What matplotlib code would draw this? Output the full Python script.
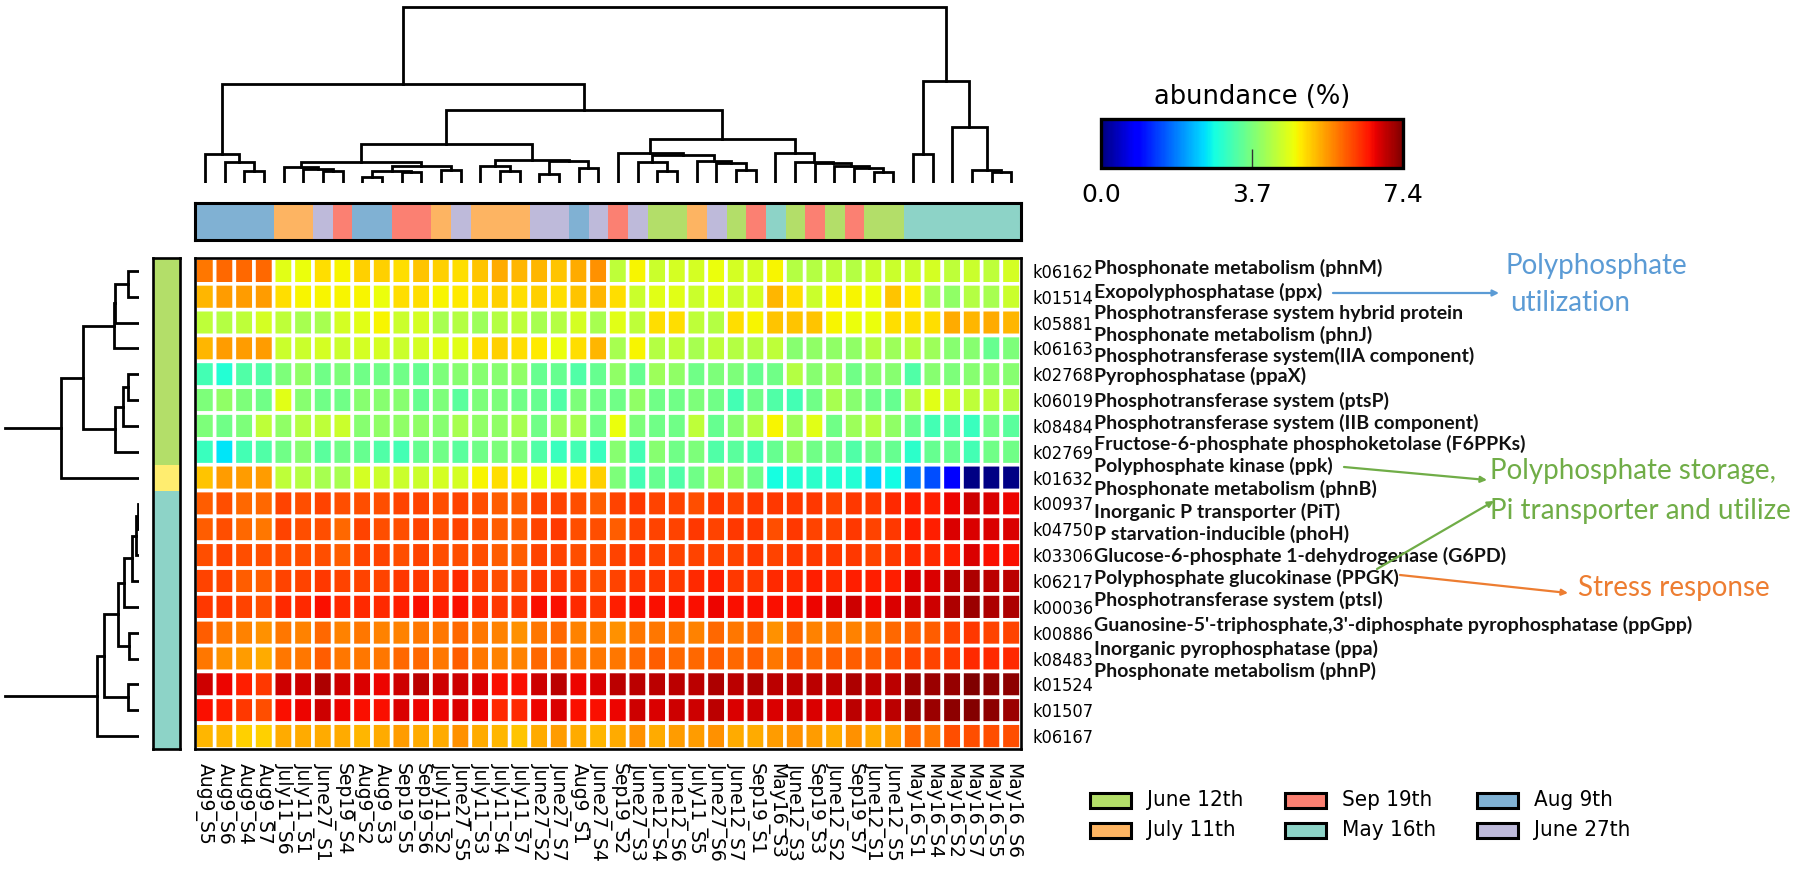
import matplotlib
matplotlib.use("Agg")
import matplotlib.pyplot as plt
import numpy as np
from matplotlib.cm import ScalarMappable
from matplotlib.colors import ListedColormap, Normalize
from matplotlib.patches import Rectangle

W, H = 1800, 874

samples = ["Aug9_S5", "Aug9_S6", "Aug9_S4", "Aug9_S7", "July11_S6", "July11_S1", "June27_S1",
           "Sep19_S4", "Aug9_S2", "Aug9_S3", "Sep19_S5", "Sep19_S6", "July11_S2", "June27_S5",
           "July11_S3", "July11_S4", "July11_S7", "June27_S2", "June27_S7", "Aug9_S1", "June27_S4",
           "Sep19_S2", "June27_S3", "June12_S4", "June12_S6", "July11_S5", "June27_S6", "June12_S7",
           "Sep19_S1", "May16_S3", "June12_S3", "Sep19_S3", "June12_S2", "Sep19_S7", "June12_S1",
           "June12_S5", "May16_S1", "May16_S4", "May16_S2", "May16_S7", "May16_S5", "May16_S6"]

kos = ["k06162", "k01514", "k05881", "k06163", "k02768", "k06019", "k08484", "k02769", "k01632",
       "k00937", "k04750", "k03306", "k06217", "k00036", "k00886", "k08483", "k01524", "k01507",
       "k06167"]

descriptions = ["Phosphonate metabolism (phnM)", "Exopolyphosphatase (ppx)",
                "Phosphotransferase system hybrid protein", "Phosphonate metabolism (phnJ)",
                "Phosphotransferase system(IIA component)", "Pyrophosphatase (ppaX)",
                "Phosphotransferase system (ptsP)", "Phosphotransferase system (IIB component)",
                "Fructose-6-phosphate phosphoketolase (F6PPKs)", "Polyphosphate kinase (ppk)",
                "Phosphonate metabolism (phnB)", "Inorganic P transporter (PiT)",
                "P starvation-inducible (phoH)", "Glucose-6-phosphate 1-dehydrogenase (G6PD)",
                "Polyphosphate glucokinase (PPGK)", "Phosphotransferase system (ptsI)",
                "Guanosine-5'-triphosphate,3'-diphosphate pyrophosphatase (ppGpp)",
                "Inorganic pyrophosphatase (ppa)", "Phosphonate metabolism (phnP)"]
desc_y = [268, 292, 313, 335, 356, 376, 401, 423, 444, 466, 489, 512, 534, 556, 578, 600, 625, 649, 671]

# abundance, one list per row
k06162 = [5.8, 5.9, 5.9, 5.9, 4.6, 4.7, 5.0, 4.8, 5.1, 5.1, 5.0, 5.2, 5.1, 5.0, 5.2, 5.4, 5.3, 5.3, 5.2, 5.4, 5.6,
          4.3, 4.8, 4.4, 4.5, 4.5, 4.7, 4.5, 4.5, 4.8, 4.2, 4.2, 4.3, 4.2, 4.4, 4.4, 4.4, 4.5, 4.3, 4.4, 4.3, 4.5]
k01514 = [5.3, 5.5, 5.5, 5.5, 5.0, 4.8, 4.8, 4.8, 4.8, 4.7, 5.0, 5.0, 4.8, 4.9, 5.0, 5.1, 5.0, 5.1, 5.0, 5.2, 5.3,
          5.0, 4.4, 4.6, 4.6, 4.4, 4.6, 4.4, 4.5, 5.3, 5.0, 4.4, 4.8, 4.8, 4.7, 5.2, 4.9, 4.1, 3.9, 4.2, 4.1, 4.4]
k05881 = [4.3, 4.2, 4.3, 4.5, 4.3, 4.1, 4.1, 4.5, 4.6, 4.8, 4.4, 4.5, 4.1, 4.2, 4.0, 4.2, 4.3, 4.1, 4.2, 4.5, 4.1,
          4.6, 4.3, 5.0, 5.0, 4.3, 4.2, 5.0, 4.8, 5.2, 5.2, 5.2, 4.8, 4.7, 4.7, 5.0, 5.0, 5.0, 5.4, 5.3, 5.4, 5.3]
k06163 = [5.3, 5.5, 5.5, 5.5, 4.4, 4.4, 4.5, 4.4, 4.5, 4.5, 4.4, 4.5, 4.6, 4.6, 5.0, 5.1, 5.0, 4.9, 4.7, 5.0, 5.3,
          4.1, 4.8, 4.2, 4.3, 4.1, 4.3, 4.2, 4.2, 4.3, 3.8, 3.9, 3.9, 3.9, 4.2, 4.0, 4.2, 4.0, 3.8, 3.8, 3.5, 3.7]
k02768 = [3.2, 2.9, 3.3, 3.3, 3.7, 3.9, 3.6, 3.7, 3.6, 3.6, 3.6, 3.5, 3.7, 3.8, 3.8, 3.8, 3.9, 3.5, 3.5, 3.3, 3.5,
          3.9, 3.5, 4.0, 3.9, 3.6, 3.7, 3.7, 3.5, 3.6, 4.2, 3.8, 4.0, 3.6, 3.8, 3.8, 3.3, 3.8, 3.7, 3.8, 3.8, 3.8]
k06019 = [3.7, 3.9, 3.7, 3.6, 4.6, 3.8, 3.6, 3.6, 3.8, 3.8, 3.8, 3.5, 3.7, 3.4, 3.7, 3.7, 3.6, 3.5, 3.3, 3.7, 3.6,
          3.6, 3.9, 3.6, 3.6, 3.7, 3.6, 3.2, 3.6, 3.3, 3.2, 3.6, 4.1, 3.8, 3.6, 3.5, 4.2, 4.6, 4.4, 4.3, 4.3, 4.2]
k08484 = [3.7, 3.6, 3.7, 4.3, 3.9, 4.2, 4.3, 4.4, 3.8, 3.9, 3.9, 3.9, 3.8, 4.1, 3.9, 3.9, 4.1, 3.6, 4.0, 4.1, 3.6,
          4.7, 3.7, 3.6, 3.6, 4.3, 3.5, 3.8, 4.2, 4.8, 4.0, 4.6, 3.6, 4.0, 4.2, 3.9, 3.5, 3.2, 3.3, 3.1, 3.6, 3.4]
k02769 = [3.1, 2.6, 3.2, 3.3, 3.6, 3.8, 3.4, 3.6, 3.5, 3.3, 3.2, 3.5, 3.6, 3.4, 3.6, 3.7, 3.7, 3.3, 3.1, 3.2, 3.1,
          3.8, 3.2, 3.8, 3.6, 3.7, 3.3, 3.4, 3.2, 3.5, 3.9, 3.6, 3.6, 3.3, 3.6, 3.5, 3.0, 3.5, 3.5, 3.2, 3.6, 3.6]
k01632 = [5.2, 5.5, 5.5, 5.5, 4.3, 4.2, 4.1, 4.1, 4.5, 4.4, 4.4, 4.4, 4.5, 4.5, 4.8, 5.0, 4.8, 4.7, 4.7, 4.9, 5.1,
          3.7, 3.2, 3.5, 3.3, 3.6, 4.0, 3.9, 3.6, 2.8, 2.9, 3.0, 2.9, 2.9, 2.4, 2.75, 1.8, 1.5, 0.85, 0.05, 0.05, 0.05]
k00937 = [6.0, 6.1, 5.9, 5.9, 6.2, 6.1, 6.2, 6.1, 6.1, 6.1, 6.2, 6.2, 6.1, 6.2, 6.1, 6.0, 6.0, 6.2, 6.2, 6.1, 6.0,
          6.2, 6.3, 6.2, 6.2, 6.1, 6.3, 6.2, 6.3, 6.3, 6.3, 6.3, 6.2, 6.3, 6.3, 6.4, 6.5, 6.5, 6.7, 6.9, 6.8, 6.7]
k04750 = [6.0, 6.1, 5.9, 5.8, 6.2, 6.1, 6.1, 5.9, 6.2, 6.1, 6.1, 6.2, 6.1, 6.2, 6.1, 6.0, 6.0, 6.2, 6.3, 6.1, 6.1,
          6.0, 6.2, 6.2, 6.2, 6.3, 6.2, 6.3, 6.3, 6.1, 6.3, 6.2, 6.2, 6.3, 6.2, 6.3, 6.5, 6.5, 6.8, 6.8, 6.8, 6.8]
k03306 = [6.1, 6.2, 6.1, 6.1, 6.1, 6.1, 6.1, 6.0, 6.2, 6.2, 6.1, 6.2, 6.1, 6.1, 6.1, 6.0, 6.0, 6.2, 6.2, 6.1, 6.1,
          6.2, 6.3, 6.2, 6.2, 6.2, 6.2, 6.2, 6.3, 6.2, 6.3, 6.3, 6.3, 6.3, 6.2, 6.3, 6.4, 6.4, 6.5, 6.8, 6.6, 6.6]
k06217 = [6.2, 6.2, 6.0, 6.0, 6.2, 6.2, 6.3, 6.2, 6.2, 6.2, 6.3, 6.3, 6.2, 6.4, 6.2, 6.1, 6.1, 6.3, 6.3, 6.2, 6.1,
          6.2, 6.3, 6.3, 6.3, 6.4, 6.5, 6.3, 6.3, 6.4, 6.4, 6.5, 6.4, 6.5, 6.5, 6.5, 6.8, 6.8, 7.0, 7.1, 7.0, 7.0]
k00036 = [6.3, 6.3, 6.2, 6.1, 6.4, 6.4, 6.6, 6.4, 6.4, 6.4, 6.5, 6.6, 6.5, 6.6, 6.4, 6.3, 6.3, 6.6, 6.6, 6.4, 6.3,
          6.5, 6.6, 6.6, 6.6, 6.6, 6.7, 6.6, 6.6, 6.6, 6.6, 6.7, 6.8, 6.9, 6.7, 6.8, 6.9, 6.9, 7.1, 7.2, 7.1, 7.1]
k00886 = [6.0, 5.8, 5.7, 5.6, 5.8, 5.7, 5.9, 5.7, 5.8, 5.7, 5.7, 5.8, 5.8, 5.9, 5.8, 5.7, 5.6, 5.8, 5.9, 5.7, 5.7,
          5.6, 5.8, 5.8, 5.8, 5.7, 5.9, 5.8, 5.9, 5.6, 5.9, 5.7, 5.8, 5.7, 5.8, 5.9, 6.0, 6.0, 6.2, 6.3, 6.2, 6.2]
k08483 = [5.8, 5.6, 5.5, 5.4, 5.8, 5.8, 6.0, 5.8, 5.8, 5.8, 5.9, 5.9, 5.8, 6.0, 5.8, 5.7, 5.7, 5.9, 5.9, 5.8, 5.8,
          5.8, 5.9, 6.0, 5.9, 5.9, 6.0, 5.9, 6.0, 5.8, 6.0, 5.9, 6.0, 6.0, 6.0, 6.1, 6.2, 6.2, 6.3, 6.4, 6.4, 6.4]
k01524 = [6.9, 6.7, 6.5, 6.3, 6.9, 6.9, 7.1, 6.9, 6.8, 6.7, 6.9, 7.0, 6.9, 6.9, 6.8, 6.6, 6.6, 6.9, 7.0, 6.7, 6.8,
          7.0, 7.0, 7.0, 7.0, 7.0, 7.1, 7.0, 7.1, 7.0, 7.0, 7.0, 7.0, 7.1, 7.0, 7.0, 7.2, 7.2, 7.25, 7.4, 7.3, 7.3]
k01507 = [6.6, 6.5, 6.3, 6.1, 6.6, 6.7, 6.9, 6.7, 6.6, 6.6, 6.8, 6.7, 6.7, 6.8, 6.7, 6.4, 6.4, 6.7, 6.8, 6.6, 6.6,
          6.7, 6.9, 6.8, 6.9, 6.9, 7.0, 6.8, 6.9, 6.8, 6.9, 6.8, 6.8, 7.0, 6.9, 7.0, 7.2, 7.2, 7.3, 7.35, 7.3, 7.2]
k06167 = [5.3, 5.3, 5.1, 5.1, 5.4, 5.4, 5.4, 5.4, 5.3, 5.4, 5.5, 5.4, 5.4, 5.6, 5.4, 5.3, 5.2, 5.4, 5.5, 5.4, 5.3,
          5.4, 5.6, 5.4, 5.5, 5.5, 5.6, 5.4, 5.4, 5.5, 5.6, 5.5, 5.4, 5.6, 5.4, 5.5, 5.9, 5.8, 6.1, 6.1, 6.1, 6.1]

abundance = np.array([k06162, k01514, k05881, k06163, k02768, k06019, k08484, k02769, k01632, k00937,
                      k04750, k03306, k06217, k00036, k00886, k08483, k01524, k01507, k06167])

date_names = ["June12", "July11", "Sep19", "May16", "Aug9", "June27"]
date_labels = ["June 12th", "July 11th", "Sep 19th", "May 16th", "Aug 9th", "June 27th"]
date_colors = ["#b3de69", "#fdb462", "#fb8072", "#8dd3c7", "#80b1d3", "#bebada"]
row_groups = [0] * 8 + [1] + [2] * 10
row_colors = ["#b3de69", "#ffed6f", "#8dd3c7"]

# trees are (height, left, right), ints are leaves
col_tree = (176,
            (99,
             (29, 0, (21, 1, (12, 2, 3))),
             (73,
              (39,
               (21,
                (16, 4, (14, 5, (12, 6, 7))),
                (17, (12, (6, 8, 9), (11, 10, 11)), (13, 12, 13))),
               (23,
                (17, 14, (12, 15, 16)),
                (22, (9, 17, 18), (15, 19, 20)))),
              (44,
               (30, 21, (28, (21, 22, (12, 23, 24)), (22, 25, (20, 26, (13, 27, 28))))),
               (30, 29, (21, 30, (20, 31, (17, 32, (15, 33, (11, 34, 35))))))))),
            (102,
             (29, 36, 37),
             (56, 38, (13, 39, (11, 40, 41)))))
row_tree_top = (78,
                (56,
                 (25, (23.5, (10.5, 0, 1), 2), 3),
                 (24, (16, (11, 4, 5), 6), 7)),
                8)
row_tree_bottom = (42,
                   (35,
                    (21,
                     (15, (7, (2.5, (0.7, 9, 10), 11), 12), 13),
                     (9.5, 14, 15)),
                    (10.5, 16, 17)),
                   18)


def px_axes(x0, y0, x1, y1):
    return fig.add_axes([x0 / W, 1 - y1 / H, (x1 - x0) / W, (y1 - y0) / H])


def draw_tree(ax, node, horizontal=True, lw=2.0):
    # returns leaf position and height of the node
    if not isinstance(node, tuple):
        return node + 0.5, 0
    h, left, right = node
    p1, h1 = draw_tree(ax, left, horizontal, lw)
    p2, h2 = draw_tree(ax, right, horizontal, lw)
    pos = [p1, p1, p2, p2]
    hts = [h1, h, h, h2]
    if horizontal:
        ax.plot(pos, hts, color="k", lw=lw, solid_joinstyle="miter")
    else:
        ax.plot(hts, pos, color="k", lw=lw, solid_joinstyle="miter")
    return (p1 + p2) / 2, h


fig = plt.figure(figsize=(W / 100, H / 100), dpi=100, facecolor="white")

# main heatmap
ax = px_axes(195, 258, 1021, 749)
mesh = ax.pcolor(abundance, cmap="jet", vmin=0, vmax=7.4, edgecolors="white", linewidth=2.6)
mesh.set_joinstyle("miter")
ax.set_xlim(0, abundance.shape[1])
ax.set_ylim(abundance.shape[0], 0)
ax.set_xticks(np.arange(len(samples)) + 0.5)
ax.set_xticklabels(samples, rotation=-90, fontsize=13.5, family="DejaVu Sans")
ax.set_yticks(np.arange(len(kos)) + 0.5)
ax.yaxis.tick_right()
ax.set_yticklabels(kos, fontsize=13, family="DejaVu Sans", stretch="condensed")
ax.tick_params(length=0, axis="both")
ax.tick_params(axis="x", pad=10)
ax.tick_params(axis="y", pad=8)
for s in ax.spines.values():
    s.set_linewidth(1.9)

# sample colours
cax_top = px_axes(195, 203, 1021, 240)
col_idx = [date_names.index(s.split("_")[0]) for s in samples]
cax_top.imshow([col_idx], aspect="auto", cmap=ListedColormap(date_colors), vmin=0, vmax=5,
               interpolation="nearest")
cax_top.set_xticks([])
cax_top.set_yticks([])
for s in cax_top.spines.values():
    s.set_linewidth(2.2)

# row colours
cax_left = px_axes(153, 258, 180, 749)
cax_left.imshow([[g] for g in row_groups], aspect="auto", cmap=ListedColormap(row_colors), vmin=0, vmax=2,
                interpolation="nearest")
cax_left.set_xticks([])
cax_left.set_yticks([])
for s in cax_left.spines.values():
    s.set_linewidth(1.9)

# dendrograms
tree_top = px_axes(195, 0, 1021, 183)
draw_tree(tree_top, col_tree)
tree_top.set_xlim(0, len(samples))
tree_top.set_ylim(0, 183)
tree_top.axis("off")

tree_left = px_axes(0, 258, 138.5, 749)
for tree in [row_tree_top, row_tree_bottom]:
    p, h = draw_tree(tree_left, tree, horizontal=False)
    tree_left.plot([h, 133.5], [p, p], color="k", lw=2.0)
tree_left.set_xlim(138.5, 0)
tree_left.set_ylim(len(kos), 0)
tree_left.axis("off")

# colour scale
cbar_ax = px_axes(1101, 119, 1403, 168)
cbar = fig.colorbar(ScalarMappable(Normalize(0, 7.4), "jet"), cax=cbar_ax, orientation="horizontal")
cbar.set_ticks([0, 3.7, 7.4], labels=["0.0", "3.7", "7.4"])
cbar.ax.tick_params(labelsize=18, direction="in", length=14, width=1, color="#333333", pad=11)
cbar.outline.set_linewidth(2.4)
cbar_ax.set_title("abundance (%)", fontsize=18.5, pad=11)

# text and arrows sit on a full size overlay, in pixels
over = fig.add_axes([0, 0, 1, 1], facecolor="none")
over.set_xlim(0, W)
over.set_ylim(H, 0)
over.axis("off")

for txt, y in zip(descriptions, desc_y):
    over.text(1094, y, txt, family="Lato", weight="bold", fontsize=14, va="center", ha="left", color="#111111")

blue, green, orange = "#5b9bd5", "#70ad47", "#ed7d31"
over.text(1506, 266, "Polyphosphate", family="Lato", fontsize=20, color=blue, va="center")
over.text(1510, 303, "utilization", family="Lato", fontsize=20, color=blue, va="center")
over.text(1490, 471, "Polyphosphate storage,", family="Lato", fontsize=20, color=green, va="center")
over.text(1490, 511, "Pi transporter and utilize", family="Lato", fontsize=20, color=green, va="center")
over.text(1578, 588, "Stress response", family="Lato", fontsize=20, color=orange, va="center")

arrows = [((1333, 293), (1499, 293), blue), ((1344, 467), (1487, 480), green),
          ((1377, 569), (1494, 501), green), ((1400, 575), (1568, 593), orange)]
for start, end, c in arrows:
    over.annotate("", xy=end, xytext=start,
                  arrowprops=dict(arrowstyle="-|>", color=c, lw=1.6, mutation_scale=9, shrinkA=0, shrinkB=0))

# legend
leg_x = [1090, 1090, 1285, 1285, 1477, 1477]
leg_y = [793, 823, 793, 823, 793, 823]
for lab, c, x, y in zip(date_labels, date_colors, leg_x, leg_y):
    over.add_patch(Rectangle((x, y), 41, 15, facecolor=c, edgecolor="k", lw=2.2))
    over.text(x + 57, y + 7.5, lab, fontsize=16, family="DejaVu Sans", stretch="condensed", va="center")

fig.savefig("out.png", dpi=100)
